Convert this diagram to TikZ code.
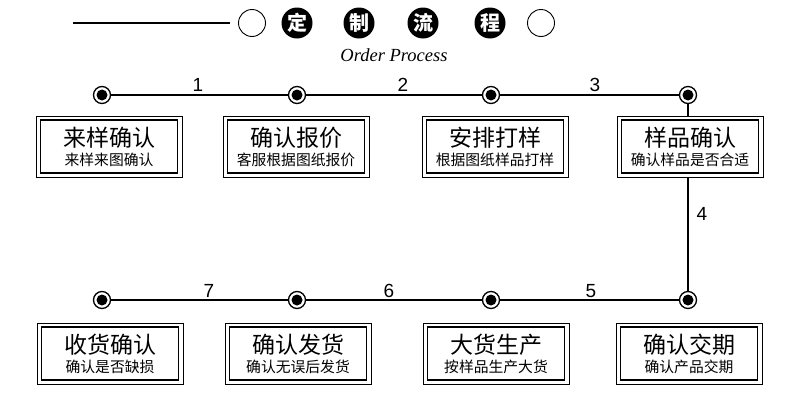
\documentclass[tikz,border=0pt]{standalone}
\usepackage{fontspec}
\setmainfont{Liberation Serif}
\newfontfamily\cjk{Noto Sans CJK SC}
\newfontfamily\digitf{Liberation Sans}
\begin{document}
\begin{tikzpicture}[x=1pt,y=-1pt,
  conn/.style={line width=2pt},
  dotring/.style={circle, draw, line width=1.3pt, fill=white, minimum size=17pt, inner sep=0pt},
  boxouter/.style={draw, line width=0.8pt, fill=white, minimum width=146pt, minimum height=61pt, inner sep=0pt},
  boxinner/.style={draw, line width=1.2pt, minimum width=137pt, minimum height=53pt, inner sep=0pt},
  titlef/.style={font=\cjk\fontsize{23}{26}\selectfont, inner sep=0pt},
  subf/.style={font=\cjk\fontsize{14.8}{17}\selectfont, inner sep=0pt},
  numf/.style={font=\digitf\fontsize{19}{22}\selectfont, inner sep=0pt},
  opencirc/.style={circle, draw, line width=0.9pt, minimum size=27pt, inner sep=0pt},
  blackcirc/.style={circle, fill=black, text=white, minimum size=31pt, inner sep=0pt, font=\cjk\bfseries\fontsize{20}{22}\selectfont}
]
\useasboundingbox (0,0) rectangle (790,394);

% header
\coordinate (hl) at (73,23);
\node[opencirc] (oc1) at (252,23) {};
\node[blackcirc] (h1) at (297,23) {定};
\node[blackcirc] (h2) at (359,23) {制};
\node[blackcirc] (h3) at (423,23) {流};
\node[blackcirc] (h4) at (490,23) {程};
\node[opencirc] (oc2) at (541,23) {};
\draw[line width=1.3pt] (hl) -- ([xshift=-8pt]oc1.west);
\node[font=\itshape\fontsize{18.5}{20}\selectfont, inner sep=0pt] (op) at (394,55) {Order Process};

% dot positions
\coordinate (p1) at (102,95);
\coordinate (p2) at (297,95);
\coordinate (p3) at (491,95);
\coordinate (p4) at (688,95);
\coordinate (p5) at (688,300);
\coordinate (p6) at (491,300);
\coordinate (p7) at (297,300);
\coordinate (p8) at (102,300);

% connectors
\draw[conn] (p1) -- (p2) -- (p3) -- (p4) -- (p5) -- (p6) -- (p7) -- (p8);

% labels
\node[numf] (n1) at (198,85) {1};
\node[numf] (n2) at (403,85) {2};
\node[numf] (n3) at (595,85) {3};
\node[numf] (n4) at (702,214) {4};
\node[numf] (n5) at (591,291) {5};
\node[numf] (n6) at (389,291) {6};
\node[numf] (n7) at (209,291) {7};

\newcommand{\flowbox}[5]{%
  \node[boxouter] (#1) at (#2,#3) {};
  \node[boxinner] (#1i) at (#1.center) {};
  \node[titlef] (#1t) at ([yshift=8.5pt]#1.center) {#4};
  \node[subf] (#1s) at ([yshift=-13.5pt]#1.center) {#5};
}
\flowbox{b1}{109}{146.5}{来样确认}{来样来图确认}
\flowbox{b2}{296}{146.5}{确认报价}{客服根据图纸报价}
\flowbox{b3}{495}{146.5}{安排打样}{根据图纸样品打样}
\flowbox{b4}{690}{146.5}{样品确认}{确认样品是否合适}
\flowbox{b5}{689}{353.5}{确认交期}{确认产品交期}
\flowbox{b6}{496}{353.5}{大货生产}{按样品生产大货}
\flowbox{b7}{298}{353.5}{确认发货}{确认无误后发货}
\flowbox{b8}{110}{353.5}{收货确认}{确认是否缺损}

% dots
\foreach \i in {1,...,8}{
  \node[dotring] (d\i) at (p\i) {};
  \fill (d\i.center) circle (5.5pt);
}
\end{tikzpicture}
\end{document}
